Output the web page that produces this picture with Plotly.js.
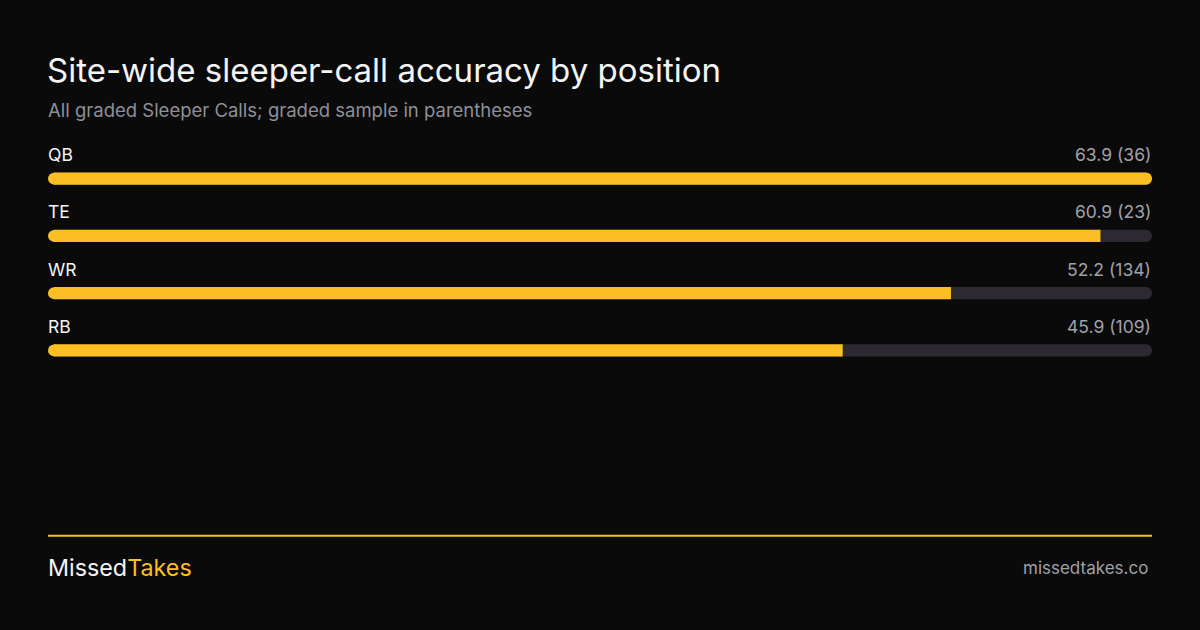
<!DOCTYPE html>
<html>
<head>
<meta charset="utf-8">
<script src="https://cdn.plot.ly/plotly-3.0.1.min.js"></script>
<style>
  html, body { margin: 0; padding: 0; background: #0a0a0a; }
  #chart { width: 1200px; height: 630px; }
</style>
</head>
<body>
<div id="chart"></div>
<script>
// values
var positions = ['QB', 'TE', 'WR', 'RB'];
var accuracy = [63.9, 60.9, 52.2, 45.9];
var samples = [36, 23, 134, 109];

var maxAcc = Math.max.apply(null, accuracy);
var track = positions.map(function () { return maxAcc; });
var starts = positions.map(function () { return 0; });

var yellow = '#fbbf24';
var font = 'Inter, "Noto Sans", sans-serif';

// bars are 12px tall; leave 6px left of zero for the round start cap
var capPx = 6;
var xLo = -capPx * maxAcc / (1104 - capPx);

var trackTrace = {
    type: 'bar',
    orientation: 'h',
    x: track,
    y: positions,
    width: 0.21,
    marker: { color: '#2c2931', cornerradius: 6 },
    hoverinfo: 'skip'
};

var valueTrace = {
    type: 'bar',
    orientation: 'h',
    x: accuracy,
    y: positions,
    width: 0.21,
    marker: { color: yellow, cornerradius: 6 },
    hoverinfo: 'skip'
};

// round left end of each bar
var capTrace = {
    type: 'scatter',
    mode: 'markers',
    x: starts,
    y: positions,
    marker: { color: yellow, size: 12, line: { width: 0 } },
    cliponaxis: false,
    hoverinfo: 'skip'
};

var annotations = [];
positions.forEach(function (p, i) {
    annotations.push({
        xref: 'paper', yref: 'y', x: 0, y: p,
        xanchor: 'left', yanchor: 'middle', yshift: 24, xshift: -2,
        text: p, showarrow: false,
        font: { family: font, size: 17.5, color: '#f4f4f5' }
    });
    annotations.push({
        xref: 'paper', yref: 'y', x: 1, y: p,
        xanchor: 'right', yanchor: 'middle', yshift: 24, xshift: 1,
        text: accuracy[i].toFixed(1) + ' (' + samples[i] + ')', showarrow: false,
        font: { family: font, size: 17.5, color: '#a1a1aa' }
    });
});

// subtitle
annotations.push({
    xref: 'paper', yref: 'paper', x: 0, y: (379 - 111) / 228,
    xanchor: 'left', yanchor: 'middle', xshift: -2,
    text: 'All graded Sleeper Calls; graded sample in parentheses', showarrow: false,
    font: { family: font, size: 18.5, color: '#8f8f99' }
});

// footer
annotations.push({
    xref: 'paper', yref: 'paper', x: 0, y: (379 - 567) / 228,
    xanchor: 'left', yanchor: 'middle', xshift: -2,
    text: 'Missed<span style="color:' + yellow + '">Takes</span>', showarrow: false,
    font: { family: font, size: 23.3, color: '#f4f4f5' }
});
annotations.push({
    xref: 'paper', yref: 'paper', x: 1, y: (379 - 567) / 228,
    xanchor: 'right', yanchor: 'middle', xshift: -2,
    text: 'missedtakes.co', showarrow: false,
    font: { family: font, size: 17, color: '#a1a1aa' }
});

var layout = {
    width: 1200,
    height: 630,
    paper_bgcolor: '#0a0a0a',
    plot_bgcolor: '#0a0a0a',
    showlegend: false,
    barmode: 'overlay',
    margin: { l: 48, r: 48, t: 150, b: 251 },
    title: {
        text: 'Site-wide sleeper-call accuracy by position',
        xref: 'container', yref: 'container',
        x: 47 / 1200, xanchor: 'left',
        y: 1 - 70 / 630, yanchor: 'middle',
        font: { family: font, size: 33, color: '#f4f4f5' }
    },
    xaxis: {
        range: [xLo, maxAcc],
        visible: false,
        fixedrange: true
    },
    yaxis: {
        type: 'category',
        categoryorder: 'array',
        categoryarray: positions,
        range: [3.5, -0.5],
        visible: false,
        fixedrange: true
    },
    shapes: [{
        type: 'line', xref: 'paper', yref: 'paper',
        x0: 0, x1: 1, y0: (379 - 535) / 228, y1: (379 - 535) / 228,
        line: { color: yellow, width: 2 }
    }],
    annotations: annotations
};

Plotly.newPlot('chart', [trackTrace, valueTrace, capTrace], layout, { displayModeBar: false, staticPlot: true });
</script>
</body>
</html>
